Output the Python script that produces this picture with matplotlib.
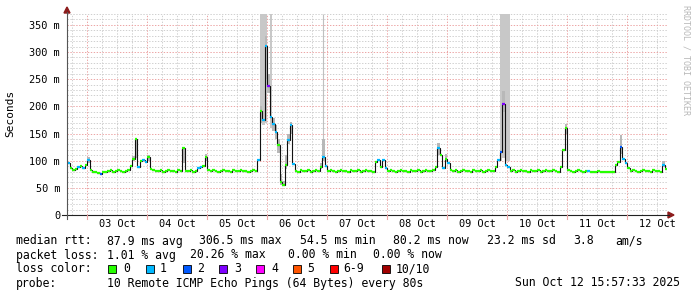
import numpy as np
import matplotlib
matplotlib.use('Agg')
import matplotlib.pyplot as plt
from matplotlib.patches import Rectangle, Polygon
from matplotlib.collections import LineCollection

# ---------------- data (hourly, h0 = 02 Oct 16:00) ----------------
median_ms = [
    96, 86, 82, 85, 88, 90, 87, 92, 102, 82, 80, 79, 77, 75, 79, 80, 81, 82, 80, 81, 82, 81, 80, 81,
    82, 90, 104, 139, 88, 100, 102, 98, 106, 84, 82, 81, 81, 82, 80, 81, 82, 81, 81, 80, 82, 81, 124, 81,
    81, 82, 80, 81, 86, 88, 90, 107, 83, 81, 82, 81, 80, 81, 82, 81, 81, 80, 82, 81, 81, 82, 81, 81,
    80, 81, 82, 81, 102, 192, 175, 312, 238, 180, 168, 152, 128, 60, 55, 92, 138, 165, 94, 81, 80, 82, 81, 81,
    82, 80, 81, 82, 81, 88, 106, 90, 81, 82, 81, 80, 81, 82, 81, 81, 80, 82, 81, 81, 82, 80, 81, 82,
    81, 81, 80, 98, 101, 89, 102, 86, 81, 82, 81, 80, 81, 82, 81, 81, 80, 82, 81, 81, 82, 80, 81, 82,
    81, 81, 82, 88, 124, 110, 87, 104, 95, 83, 81, 82, 80, 81, 82, 81, 81, 80, 82, 81, 81, 82, 80, 81,
    82, 81, 81, 88, 102, 116, 204, 92, 88, 81, 82, 80, 81, 82, 81, 81, 80, 82, 81, 81, 82, 80, 81, 82,
    81, 81, 82, 81, 80, 88, 120, 161, 82, 81, 80, 81, 82, 81, 80, 81, 81, 80, 79, 80, 81, 80, 79, 79,
    80, 79, 80, 92, 98, 125, 104, 96, 87, 81, 82, 81, 80, 81, 82, 81, 81, 80, 82, 81, 81, 80, 92, 85,
]

# hours with packet loss (count of 10 pings lost)
loss_hours = [0, 4, 6, 8, 13, 28, 30, 31, 52, 53, 76, 78, 79, 80, 81, 82, 83, 88, 89, 90,
              102, 103, 124, 126, 127, 148, 150, 152, 172, 173, 174, 175, 176, 208, 221, 222, 223, 238]
loss_count = [1, 1, 1, 1, 2, 1, 1, 1, 1, 1, 1, 1, 1, 3, 1, 1, 1, 1, 1, 1,
              1, 1, 1, 1, 1, 1, 1, 1, 1, 2, 3, 1, 1, 1, 2, 1, 1, 1]

# smoke (spread of the 10 pings) where visible
smoke_hours = [8, 26, 27, 32, 46, 55, 77, 79, 80, 82, 83, 84, 85, 86, 87, 88, 89,
               101, 102, 148, 151, 174, 199, 221, 238]
smoke_lo = [96, 100, 105, 100, 95, 100, 170, 250, 225, 155, 140, 115, 55, 53, 85, 130, 150,
            85, 100, 110, 98, 190, 150, 112, 88]
smoke_hi = [106, 108, 142, 110, 126, 112, 200, 330, 260, 178, 165, 140, 75, 62, 110, 150, 172,
            95, 140, 132, 112, 228, 168, 148, 100]

# hours whose slowest ping is off the scale
offscale_hours = [77, 78, 79, 81, 173, 174, 175, 176]
offscale_lo = [170, 165, 170, 160, 100, 105, 100, 100]
outlier_line_hours = [102]

day_labels = ["03 Oct", "04 Oct", "05 Oct", "06 Oct", "07 Oct",
              "08 Oct", "09 Oct", "10 Oct", "11 Oct", "12 Oct"]
ytick_vals = [0, 50, 100, 150, 200, 250, 300, 350]
ytick_text = ["0", "50 m", "100 m", "150 m", "200 m", "250 m", "300 m", "350 m"]

loss_labels = ["0", "1", "2", "3", "4", "5", "6-9", "10/10"]
loss_colors = ["#26ff00", "#00b8ff", "#0059ff", "#7e00ff", "#ff00ff", "#ff5500", "#ff0000", "#a10000"]

# ---------------- figure ----------------
W, H = 697, 297
MONO = "DejaVu Sans Mono"
fig = plt.figure(figsize=(W / 100, H / 100), dpi=100)
fig.patch.set_facecolor("white")

def fx(x):
    return x / W

def fy(y):
    return 1 - y / H

YMAX = 370.0
N = len(median_ms)
ax = fig.add_axes([fx(67), fy(215), 600 / W, 201 / H])
ax.set_xlim(0, N)
ax.set_ylim(0, YMAX)
for s in ax.spines.values():
    s.set_visible(False)

minor_c = "#cfcfcf"
major_c = "#eca4a4"
dot = (0, (1.4, 1.6))
# grid
for v in range(0, 371, 10):
    if v % 50:
        ax.axhline(v, color=minor_c, lw=0.7, ls=dot, zorder=0)
for h in range(2, N + 1, 6):
    if (h - 8) % 24:
        ax.axvline(h, color=minor_c, lw=0.7, ls=dot, zorder=0)
for v in ytick_vals[1:]:
    ax.axhline(v, color=major_c, lw=0.7, ls=dot, zorder=0.5)
for h in range(8, N, 24):
    ax.axvline(h, color=major_c, lw=0.7, ls=dot, zorder=0.5)

med = np.array(median_ms, dtype=float)
edges = np.arange(N + 1)

# off-scale smoke
ax.bar(offscale_hours, [YMAX - lo for lo in offscale_lo], bottom=offscale_lo, width=1.0,
       align="edge", color="#c8c8c8", lw=0, zorder=1)
ax.vlines([h + 0.5 for h in outlier_line_hours], 120, YMAX, color="#c0c0c0", lw=0.8, zorder=1)
# smoke
ax.bar(smoke_hours, [hi - lo for lo, hi in zip(smoke_lo, smoke_hi)], bottom=smoke_lo,
       width=1.0, align="edge", color="#b8b8b8", lw=0, zorder=1.5)

# median: black step connections
ax.stairs(med, edges, baseline=None, color="#111111", lw=0.8, zorder=2)
# coloured segments by loss
loss = np.zeros(N, dtype=int)
for h, c in zip(loss_hours, loss_count):
    loss[h] = c
def loss_idx(c):
    if c <= 5:
        return c
    if c < 10:
        return 6
    return 7
segs = [[(i, med[i]), (i + 1, med[i])] for i in range(N)]
cols = [loss_colors[loss_idx(loss[i])] for i in range(N)]
ax.add_collection(LineCollection(segs, colors=cols, linewidths=1.6, zorder=3, capstyle="butt"))

# ticks
ax.set_yticks(ytick_vals)
ax.set_yticklabels(ytick_text, fontfamily=MONO, fontsize=7.4)
ax.tick_params(axis="y", length=0, pad=5)
ax.set_xticks([20 + 24 * k for k in range(len(day_labels))])
ax.set_xticklabels(day_labels, fontfamily=MONO, fontsize=7.4)
ax.tick_params(axis="x", length=0, pad=3)

# axes lines and arrows
axis_c = "#222222"
arrow_c = "#8c1c1c"
fig.add_artist(plt.Line2D([fx(62), fx(669)], [fy(215), fy(215)], color=axis_c, lw=0.8))
fig.add_artist(plt.Line2D([fx(67), fx(67)], [fy(219), fy(12)], color="#555555", lw=0.8))
fig.add_artist(Polygon([[fx(668), fy(212)], [fx(674), fy(215)], [fx(668), fy(218)]],
                       closed=True, color=arrow_c, transform=fig.transFigure))
fig.add_artist(Polygon([[fx(64), fy(13)], [fx(67), fy(7)], [fx(70), fy(13)]],
                       closed=True, color=arrow_c, transform=fig.transFigure))
# small ticks below x axis at day boundaries
for h in range(8, N, 24):
    xx = 67 + h * 2.5
    fig.add_artist(plt.Line2D([fx(xx), fx(xx)], [fy(215), fy(219)], color=major_c, lw=0.8))

# labels
fig.text(fx(10), fy(113), "Seconds", rotation=90, ha="center", va="center",
         fontfamily=MONO, fontsize=8)
fig.text(fx(686), fy(60), "RRDTOOL / TOBI OETIKER", rotation=270, ha="center", va="center",
         fontfamily=MONO, fontsize=6, color="#b8b8b8")

FS = 8.3
def t(x, y, s, ha="left"):
    fig.text(fx(x), fy(y), s, ha=ha, va="center", fontfamily=MONO, fontsize=FS)

row1 = [("median rtt:", 16), ("87.9 ms avg", 107), ("306.5 ms max", 199), ("54.5 ms min", 300),
        ("80.2 ms now", 393), ("23.2 ms sd", 487), ("3.8", 573), ("am/s", 615)]
row2 = [("packet loss:", 16), ("1.01 % avg", 107), ("20.26 % max", 190), ("0.00 % min", 288),
        ("0.00 % now", 373)]
for s, x in row1:
    t(x, 241, s)
for s, x in row2:
    t(x, 255, s)
t(16, 269, "loss color:")
box_x = [108, 146, 183, 219, 256, 293, 330, 382]
lab_x = [123, 160, 197, 234, 271, 307, 343, 396]
for bx, lx, lab, c in zip(box_x, lab_x, loss_labels, loss_colors):
    fig.add_artist(Rectangle((fx(bx), fy(273)), 8 / W, 8 / H, facecolor=c, edgecolor="black",
                             lw=0.6, transform=fig.transFigure))
    t(lx, 269, lab)
t(16, 283, "probe:")
t(107, 283, "10 Remote ICMP Echo Pings (64 Bytes) every 80s")
t(680, 283, "Sun Oct 12 15:57:33 2025", ha="right")

fig.savefig("out.png", dpi=100, facecolor="white")
